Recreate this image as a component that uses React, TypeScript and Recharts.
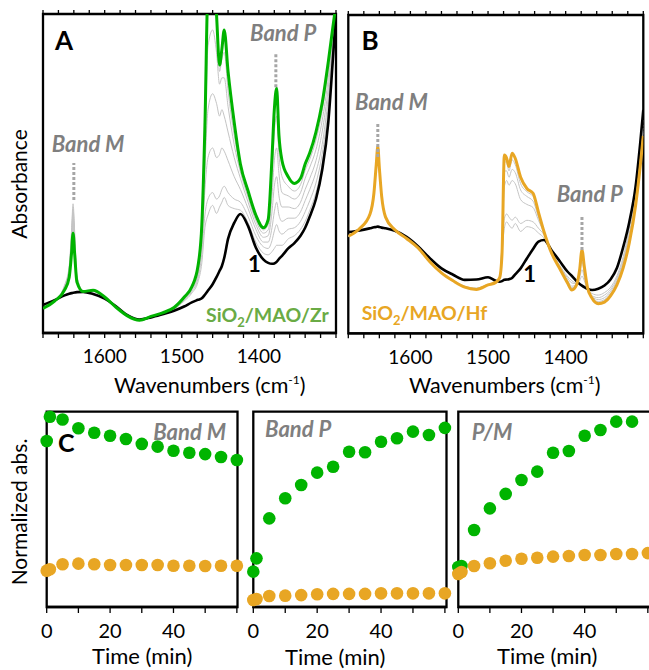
import React from "react";
import { LineChart, Line, XAxis, YAxis, ReferenceLine, ReferenceArea, ScatterChart, Scatter } from "recharts";

const FONT = "Lato, sans-serif";
const GREEN = "#00B300";
const GREEN_TXT = "#6AAB45";
const ORANGE = "#E8A624";
const GRAY = "#C4C4C4";
const LABEL_GRAY = "#7F7F7F";

// ---------- panel A : SiO2/MAO/Zr spectra ----------
const WN_A = [1680, 1665, 1652, 1646, 1643, 1641, 1639, 1636, 1628, 1615,
  1600, 1585, 1570, 1555, 1540, 1525, 1510, 1497, 1487, 1479,
  1474, 1470, 1466, 1460, 1455, 1451, 1448, 1445, 1440, 1432,
  1424, 1414, 1404, 1394, 1388, 1383, 1380, 1377, 1374, 1370,
  1362, 1354, 1346, 1340, 1334, 1326, 1318, 1310, 1304, 1300];

const BLACK_A = [8.8, 10.3, 11.8, 12.3, 12.5, 12.6, 12.7, 12.8, 12.9, 12.2,
  10.8, 8.3, 5.5, 4.2, 4.9, 5.9, 7.0, 8.3, 9.6, 10.4,
  10.9, 12.0, 13.3, 15.3, 17.5, 19.5, 21.0, 23.5, 29.5, 34.5,
  37.3, 33.5, 26.8, 23.0, 22.0, 21.7, 21.8, 22.3, 23.2, 24.2,
  26.5, 28.2, 30.5, 33.0, 36.5, 42.0, 51.0, 66.0, 86.0, 100];

const GREEN_A = [7.7, 10.0, 13.5, 17.5, 25, 31.3, 25, 16, 13.0, 13.4,
  11.3, 8.0, 5.3, 4.0, 5.2, 6.3, 8.0, 11.2, 14.5, 21.0,
  34, 65, 110, 120, 100, 84, 89, 95, 82, 66,
  53, 44.5, 37.0, 33.0, 35.5, 55, 70, 76.7, 62, 54,
  49, 46.9, 48.5, 53, 56.5, 63, 72, 85, 96, 103];

const GRAY_A1 = [7.9, 10.1, 15.0, 21.0, 32.0, 40.5, 32.0, 18.0, 13.2, 13.0,
  11.0, 8.1, 5.3, 3.9, 5.0, 6.0, 7.5, 10.0, 12.5, 16.0,
  22, 33, 37, 40, 37.5, 39.5, 41, 42.5, 40, 39,
  38.5, 34.5, 28.5, 25, 24.5, 25.5, 26.5, 27.5, 27.5, 27.5,
  29.5, 30.5, 32.5, 35, 38.5, 44, 53, 68, 88, 100];
const GRAY_A2 = [7.9, 10.1, 14.7, 20.3, 30.5, 39.0, 30.5, 17.6, 13.2, 13.1,
  11.1, 8.1, 5.3, 3.9, 5.0, 6.0, 7.6, 10.3, 13.0, 17.0,
  25, 37, 42, 44, 42, 43, 45, 46, 44, 42,
  41, 36.5, 30.5, 27, 26.5, 29, 32, 34, 32, 31,
  32.5, 33, 35, 38, 41.5, 47, 56, 71, 90, 101];
const GRAY_A3 = [7.8, 10.1, 14.4, 19.6, 29.3, 37.5, 29.3, 17.2, 13.1, 13.2,
  11.1, 8.1, 5.3, 3.9, 5.0, 6.1, 7.7, 10.6, 13.5, 18.0,
  28, 45, 55, 58, 55, 56, 58, 57, 54, 49,
  45, 39, 32.5, 28.5, 28.5, 33, 38, 41, 37, 35,
  36, 36, 38, 41.5, 45, 50.5, 59, 74, 91, 101];
const GRAY_A4 = [7.8, 10.0, 14.1, 19.0, 28.0, 36.0, 28.0, 16.8, 13.1, 13.2,
  11.2, 8.1, 5.3, 3.9, 5.1, 6.1, 7.8, 10.8, 13.8, 19.0,
  30, 52, 70, 75, 72, 68, 70, 68, 63, 55,
  48.5, 41, 34, 30, 30.5, 38, 46, 49, 43, 39.5,
  39.5, 39, 41, 45, 48.5, 54, 63, 77, 92.5, 102];
const GRAY_A5 = [7.8, 10.0, 13.9, 18.5, 27.0, 34.5, 27.0, 16.5, 13.0, 13.3,
  11.2, 8.0, 5.3, 3.9, 5.1, 6.2, 7.9, 11.0, 14.1, 20.0,
  32, 58, 90, 95, 88, 78, 80, 80, 71, 59,
  50.5, 42.5, 35.3, 31.3, 32.3, 43, 54, 58, 50, 44,
  43, 42, 44, 48.5, 52, 57.5, 66.5, 80, 94, 102];
const GRAY_A6 = [7.7, 10.0, 13.7, 18.0, 26.0, 33.0, 26.0, 16.2, 13.0, 13.3,
  11.3, 8.0, 5.3, 3.9, 5.2, 6.2, 8.0, 11.1, 14.3, 20.5,
  33, 62, 105, 112, 100, 82, 86, 88, 76, 62,
  52, 43.5, 36.2, 32.3, 34, 49, 63, 68, 56, 49,
  46, 44.5, 46.5, 51, 54.5, 60.5, 69.5, 83, 95, 103];

// ---------- panel B : SiO2/MAO/Hf spectra ----------
const WN_B = [1680, 1665, 1652, 1647, 1644, 1642, 1640, 1637, 1632, 1620,
  1605, 1590, 1575, 1560, 1545, 1530, 1515, 1500, 1490, 1485,
  1482, 1479, 1476, 1473, 1469, 1465, 1458, 1450, 1442, 1435,
  1428, 1418, 1408, 1398, 1392, 1386, 1382, 1379, 1376, 1372,
  1366, 1358, 1350, 1342, 1334, 1326, 1318, 1310, 1304, 1300];

const BLACK_B = [31.8, 32.3, 33.0, 33.3, 33.4, 33.5, 33.4, 33.2, 33.0, 32.2,
  30.3, 27.3, 23.6, 20.4, 18.4, 16.8, 16.9, 17.6, 16.5, 16.2,
  16.4, 16.8, 16.9, 17.0, 17.4, 18.5, 20.4, 23.5, 26.5, 28.8,
  29.3, 26.0, 22.8, 19.5, 18.0, 16.4, 15.5, 15.0, 14.5, 14.0,
  13.6, 14.0, 15.0, 17.0, 20.5, 27.0, 35.0, 46.0, 59.7, 70.2];

const ORANGE_B = [30.5, 33.0, 37.5, 44, 53, 58.7, 52, 43, 36.5, 32.5,
  29.8, 26.8, 22.5, 19.0, 16.5, 14.5, 13.8, 15.2, 16.0, 17.5,
  25, 56, 55, 52.4, 56.6, 55, 49, 45.5, 44, 38,
  32, 25.1, 20.5, 16.0, 13.6, 15.2, 20, 26.2, 21, 14.5,
  11.0, 9.3, 9.8, 11.8, 15.2, 20.5, 28.5, 40, 52.4, 62];

const GRAY_B1 = [30.6, 33.0, 37.4, 43.8, 52.6, 58.2, 51.6, 42.8, 36.4, 32.5,
  29.9, 26.9, 22.6, 19.1, 16.7, 14.8, 14.2, 15.4, 16.1, 17.0,
  25, 33, 35, 34, 33, 34.5, 32, 33.5, 33, 31.5,
  30, 25.5, 21.5, 18.0, 16.5, 15.8, 16.5, 18, 16.5, 13.8,
  12.5, 12.0, 12.8, 14.5, 18, 24, 33, 44, 57, 67];
const GRAY_B2 = [30.6, 33.0, 37.4, 43.8, 52.7, 58.4, 51.7, 42.9, 36.4, 32.5,
  29.9, 26.9, 22.6, 19.1, 16.6, 14.7, 14.1, 15.3, 16.1, 17.0,
  26, 36, 37.5, 36.5, 35.5, 36.5, 34.5, 35.5, 35, 33,
  31, 25.5, 21.2, 17.5, 15.8, 15.6, 17.5, 20, 17.5, 13.5,
  11.8, 11.2, 12.0, 13.8, 17.3, 23, 31.5, 42.5, 55.5, 65.5];
const GRAY_B3 = [30.5, 33.0, 37.5, 43.9, 52.8, 58.5, 51.8, 42.9, 36.5, 32.5,
  29.9, 26.8, 22.5, 19.0, 16.6, 14.6, 14.0, 15.3, 16.0, 17.2,
  28, 46, 48, 46.5, 48, 47, 42, 40.5, 39.5, 35.5,
  31.5, 25.3, 21, 16.8, 14.8, 15.4, 18.5, 22.5, 18.5, 14,
  11.5, 10.6, 11.2, 13.2, 16.6, 22.3, 30.5, 41.8, 54.5, 64.5];
const GRAY_B4 = [30.5, 33.0, 37.5, 44.0, 52.9, 58.6, 51.9, 43.0, 36.5, 32.5,
  29.8, 26.8, 22.5, 19.0, 16.5, 14.5, 13.9, 15.2, 16.0, 17.3,
  29, 51, 51, 49, 51.5, 50.5, 45, 43, 41.5, 36.5,
  31.8, 25.2, 20.8, 16.4, 14.3, 15.3, 19.3, 24, 19.5, 14.2,
  11.2, 10.0, 10.6, 12.6, 16.0, 21.5, 29.8, 41, 53.5, 63.5];
const GRAY_B5 = [30.5, 33.0, 37.5, 44.0, 53.0, 58.7, 52.0, 43.0, 36.5, 32.5,
  29.8, 26.8, 22.5, 19.0, 16.5, 14.5, 13.8, 15.2, 16.0, 17.4,
  29.5, 54, 53.5, 51, 54.5, 53, 47, 44.5, 43, 37.3,
  32, 25.1, 20.6, 16.2, 14, 15.2, 19.7, 25, 20.2, 14.3,
  11.1, 9.6, 10.2, 12.2, 15.6, 21, 29.1, 40.5, 53, 63];

const WN_TICKS = [1680, 1660, 1640, 1620, 1600, 1580, 1560, 1540, 1520, 1500,
  1480, 1460, 1440, 1420, 1400, 1380, 1360, 1340, 1320, 1300];
const WN_LABELS = [1600, 1500, 1400];

// ---------- panel C : kinetics ----------
const TIME = [0, 1, 5, 10, 15, 20, 25, 30, 35, 40, 45, 50, 55, 60];
const BANDM_ZR = [85.0, 97.4, 96.0, 91.5, 89.2, 87.7, 86.0, 83.5, 82.1, 80.0, 79.0, 78.3, 76.8, 75.3];
const BANDM_HF = [18.6, 19.3, 21.9, 22.2, 21.9, 21.5, 21.5, 21.5, 21.5, 21.1, 21.1, 21.0, 21.1, 21.1];
const BANDP_ZR = [18.1, 24.9, 45.4, 55.7, 62.5, 68.8, 71.8, 79.5, 79.2, 84.6, 86.4, 89.8, 88.1, 91.7];
const BANDP_HF = [3.6, 4.1, 5.6, 5.8, 6.1, 6.5, 6.7, 6.7, 6.7, 7.0, 7.0, 7.0, 7.0, 7.0];
const PM_ZR = [20.5, 21.0, 39.4, 50.5, 57.9, 65.0, 69.3, 79.0, 79.9, 87.7, 90.6, 94.9, 94.9, null];
const PM_HF = [16.9, 17.9, 21.0, 22.4, 23.7, 24.7, 25.2, 25.8, 26.1, 26.6, 26.6, 27.1, 27.1, 27.6];
const TIME_TICKS = [0, 10, 20, 30, 40, 50, 60];

const dataA = WN_A.map((wn, i) => ({
  wn, black: BLACK_A[i], main: GREEN_A[i],
  g1: GRAY_A1[i], g2: GRAY_A2[i], g3: GRAY_A3[i], g4: GRAY_A4[i], g5: GRAY_A5[i], g6: GRAY_A6[i],
}));
const dataB = WN_B.map((wn, i) => ({
  wn, black: BLACK_B[i], main: ORANGE_B[i],
  g1: GRAY_B1[i], g2: GRAY_B2[i], g3: GRAY_B3[i], g4: GRAY_B4[i], g5: GRAY_B5[i],
}));

const pts = (vals: (number | null)[]) =>
  TIME.map((t, i) => ({ t, v: vals[i] })).filter((d) => d.v != null);

const AXIS = { stroke: "#000", strokeWidth: 2.3 };
const TICKLINE = { stroke: "#000", strokeWidth: 1.3 };

type Marker = { x: number; y1: number; y2: number };

function Spectrum({ left, margin, data, grayKeys, color, markers }: {
  left: number; margin: any; data: any[]; grayKeys: string[]; color: string; markers: Marker[];
}) {
  return (
    <div style={{ position: "absolute", left, top: 0 }}>
      <LineChart width={345} height={400} data={data} margin={margin}>
        <XAxis dataKey="wn" type="number" domain={[1300, 1680]} reversed allowDataOverflow
          ticks={WN_TICKS} interval={0} height={60} tickSize={5} tickMargin={12}
          tickFormatter={(v: number) => (WN_LABELS.includes(v) ? String(v) : "")}
          axisLine={AXIS} tickLine={TICKLINE}
          tick={{ fill: "#000", fontSize: 19, fontFamily: FONT }} />
        <XAxis xAxisId="top" orientation="top" dataKey="wn" type="number" domain={[1300, 1680]} reversed
          ticks={WN_TICKS} interval={0} height={1} tickSize={4} tickFormatter={() => ""}
          axisLine={false} tickLine={TICKLINE} />
        <YAxis domain={[0, 100]} allowDataOverflow hide />
        {grayKeys.map((k) => (
          <Line key={k} dataKey={k} type="monotone" stroke={GRAY} strokeWidth={1} dot={false}
            activeDot={false} isAnimationActive={false} />
        ))}
        <Line dataKey="black" type="monotone" stroke="#000" strokeWidth={2.6} dot={false}
          activeDot={false} isAnimationActive={false} />
        <Line dataKey="main" type="monotone" stroke={color} strokeWidth={3} dot={false}
          activeDot={false} isAnimationActive={false} />
        {markers.map((m, i) => (
          <ReferenceLine key={i} segment={[{ x: m.x, y: m.y1 }, { x: m.x, y: m.y2 }]}
            stroke="#A6A6A6" strokeWidth={3} strokeDasharray="3 2" />
        ))}
        <ReferenceArea x1={1680} x2={1300} y1={0} y2={100} fill="none" fillOpacity={0}
          stroke="#000" strokeWidth={2.3} ifOverflow="visible" />
      </LineChart>
    </div>
  );
}

function Kinetics({ left, width, margin, domainMax, zr, hf }: {
  left: number; width: number; margin: any; domainMax: number;
  zr: (number | null)[]; hf: (number | null)[];
}) {
  const dot = (fill: string) => (p: any) => <circle cx={p.cx} cy={p.cy} r={6.3} fill={fill} />;
  return (
    <div style={{ position: "absolute", left, top: 380 }}>
      <ScatterChart width={width} height={290} margin={margin}>
        <XAxis dataKey="t" type="number" domain={[0, domainMax]} ticks={TIME_TICKS} interval={0}
          height={50} tickSize={6} tickMargin={11}
          tickFormatter={(v: number) => (v === 0 || v === 20 || v === 40 ? String(v) : "")}
          axisLine={AXIS} tickLine={TICKLINE}
          tick={{ fill: "#000", fontSize: 20, fontFamily: FONT }} />
        <YAxis dataKey="v" type="number" domain={[0, 100]} hide />
        <ReferenceArea x1={0} x2={domainMax} y1={0} y2={100} fill="none" fillOpacity={0}
          stroke="#000" strokeWidth={2.3} ifOverflow="visible" />
        <Scatter data={pts(zr)} shape={dot("#00B400")} isAnimationActive={false} />
        <Scatter data={pts(hf)} shape={dot(ORANGE)} isAnimationActive={false} />
      </ScatterChart>
    </div>
  );
}

const bandStyle = { fill: LABEL_GRAY, fontSize: 22, fontWeight: 700, fontStyle: "italic" as const };

export default function App() {
  return (
    <div style={{ position: "absolute", left: 0, top: 0, width: 649, height: 670, overflow: "hidden",
      background: "#fff", fontFamily: FONT }}>
      <Spectrum left={0} margin={{ top: 13, right: 9, bottom: 7, left: 43 }} data={dataA}
        grayKeys={["g1", "g2", "g3", "g4", "g5", "g6"]} color={GREEN}
        markers={[{ x: 1640, y1: 41.7, y2: 53.3 }, { x: 1378, y1: 77, y2: 88 }]} />
      <Spectrum left={305} margin={{ top: 14, right: 6.7, bottom: 6.7, left: 43.3 }} data={dataB}
        grayKeys={["g1", "g2", "g3", "g4", "g5"]} color={ORANGE}
        markers={[{ x: 1642, y1: 55.4, y2: 66.1 }, { x: 1379, y1: 26.2, y2: 37.2 }]} />

      <Kinetics left={0} width={250} margin={{ top: 31.7, right: 12.5, bottom: 13, left: 46.7 }}
        domainMax={60.2} zr={BANDM_ZR} hf={BANDM_HF} />
      <Kinetics left={240} width={215} margin={{ top: 31.7, right: 8.5, bottom: 13, left: 13.3 }}
        domainMax={60.5} zr={BANDP_ZR} hf={BANDP_HF} />
      <Kinetics left={450} width={210} margin={{ top: 31.7, right: 9, bottom: 13, left: 8.3 }}
        domainMax={61} zr={PM_ZR} hf={PM_HF} />

      <svg width={649} height={670} style={{ position: "absolute", left: 0, top: 0, pointerEvents: "none" }}
        fontFamily={FONT}>
        <text x={27} y={184} transform="rotate(-90 27 184)" textAnchor="middle" fontSize={21}>Absorbance</text>
        <text x={27} y={512} transform="rotate(-90 27 512)" textAnchor="middle" fontSize={21}>Normalized abs.</text>

        <text x={55} y={50} fontSize={26} fontWeight={700}>A</text>
        <text x={361.5} y={50} fontSize={26} fontWeight={700}>B</text>
        <text x={58} y={452} fontSize={25} fontWeight={700}>C</text>

        <text x={51.7} y={151.7} {...bandStyle}>Band M</text>
        <text x={250} y={40.7} {...bandStyle}>Band P</text>
        <text x={355} y={110} {...bandStyle}>Band M</text>
        <text x={556.7} y={201.7} {...bandStyle}>Band P</text>
        <text x={226} y={440} textAnchor="end" {...bandStyle}>Band M</text>
        <text x={265} y={436.7} {...bandStyle}>Band P</text>
        <text x={471.7} y={440} {...bandStyle}>P/M</text>

        <text x={248} y={271.7} fontSize={22} fontWeight={700}>1</text>
        <text x={523.3} y={281.7} fontSize={22} fontWeight={700}>1</text>

        <text x={206} y={321.7} fontSize={19.5} fontWeight={700} fill={GREEN_TXT}>
          SiO<tspan dy={5} fontSize={13}>2</tspan><tspan dy={-5}>/MAO/Zr</tspan>
        </text>
        <text x={361.7} y={320} fontSize={19.5} fontWeight={700} fill={ORANGE}>
          SiO<tspan dy={5} fontSize={13}>2</tspan><tspan dy={-5}>/MAO/Hf</tspan>
        </text>

        <text x={114} y={393} fontSize={21.5}>
          Wavenumbers (cm<tspan dy={-9} fontSize={12}>-1</tspan><tspan dy={9}>)</tspan>
        </text>
        <text x={409} y={393} fontSize={21.5}>
          Wavenumbers (cm<tspan dy={-9} fontSize={12}>-1</tspan><tspan dy={9}>)</tspan>
        </text>

        <text x={92} y={664} fontSize={22}>Time (min)</text>
        <text x={285} y={665} fontSize={22}>Time (min)</text>
        <text x={497} y={664} fontSize={22}>Time (min)</text>
      </svg>
    </div>
  );
}
